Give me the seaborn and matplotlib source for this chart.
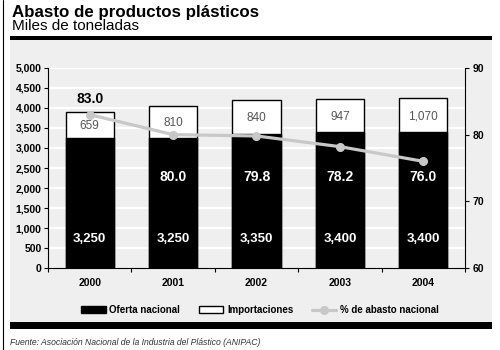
import numpy as np
import pandas as pd
import seaborn as sns
import matplotlib.pyplot as plt
from matplotlib.patches import Rectangle
from matplotlib.lines import Line2D

# --- dati ---
years = ['2000', '2001', '2002', '2003', '2004']
oferta = [3250, 3250, 3350, 3400, 3400]
# valori stampati sulle barre
importaciones = [659, 810, 840, 947, 1070]
# altezza del segmento bianco come disegnata nel grafico originale
importaciones_barra = [659, 810, 840, 830, 855]
abasto = [83.0, 80.0, 79.8, 78.2, 76.0]

df = pd.DataFrame({'year': years, 'oferta': oferta, 'imp': importaciones_barra, 'pct': abasto})
df['total'] = df['oferta'] + df['imp']

sns.set_style('white')
plt.rcParams['font.family'] = ['Liberation Sans', 'DejaVu Sans']
plt.rcParams['text.color'] = 'black'
plt.rcParams['xtick.color'] = 'black'
plt.rcParams['ytick.color'] = 'black'
plt.rcParams['axes.edgecolor'] = 'black'

fig = plt.figure(figsize=(5, 3.5), dpi=100)

# pannello grigio e barre nere
fig.patches.append(Rectangle((0.02, 0.08), 0.964, 0.808, transform=fig.transFigure,
                             facecolor='#efefef', edgecolor='none', zorder=0))
fig.patches.append(Rectangle((0.02, 0.886), 0.964, 0.011, transform=fig.transFigure,
                             facecolor='black', edgecolor='none', zorder=1))
fig.patches.append(Rectangle((0.02, 0.06), 0.964, 0.02, transform=fig.transFigure,
                             facecolor='black', edgecolor='none', zorder=1))
fig.add_artist(Line2D([0.006, 0.006], [0, 1], transform=fig.transFigure, color='black', lw=0.8))

fig.text(0.024, 0.965, 'Abasto de productos plásticos', fontsize=12.2, fontweight='bold', va='center')
fig.text(0.024, 0.925, 'Miles de toneladas', fontsize=11, va='center')
fig.text(0.021, 0.022, 'Fuente: Asociación Nacional de la Industria del Plástico (ANIPAC)',
         fontsize=6.2, style='italic', color='#333333', va='center')

ax = fig.add_axes([0.096, 0.234, 0.834, 0.572])
ax.set_zorder(5)
ax.set_facecolor('#efefef')
for y in np.arange(500, 5001, 500):
    ax.axhline(y, color='white', lw=1.6, zorder=0)

sns.barplot(data=df, x='year', y='total', color='white', edgecolor='black', linewidth=1,
            width=0.58, ax=ax, zorder=2)
sns.barplot(data=df, x='year', y='oferta', color='black', edgecolor='black', linewidth=1,
            width=0.58, ax=ax, zorder=3)

for i in range(len(years)):
    ax.text(i, oferta[i] + importaciones_barra[i] / 2 - 30, f'{importaciones[i]:,}', ha='center',
            va='center', fontsize=8.5, color='#555555', zorder=5)
    ax.text(i, 730, f'{oferta[i]:,}', ha='center', va='center', fontsize=9.5,
            fontweight='bold', color='white', zorder=5)

ax.set_ylim(0, 5000)
ax.set_xlim(-0.5, 4.5)
ax.set_yticks(np.arange(0, 5001, 500))
ax.set_xticks(np.arange(-0.5, 4.6, 1), minor=True)
ax.yaxis.set_major_formatter(plt.FuncFormatter(lambda v, p: f'{int(v):,}'))
ax.set_xlabel('')
ax.set_ylabel('')
for s in ['top', 'right']:
    ax.spines[s].set_visible(False)
ax.spines['left'].set_linewidth(0.8)
ax.spines['bottom'].set_linewidth(0.8)
ax.tick_params(axis='y', length=3, width=0.8, labelsize=7.5, left=True, pad=1.5)
ax.tick_params(axis='x', which='major', length=0, labelsize=7.5, pad=7)
ax.tick_params(axis='x', which='minor', length=3, width=0.8, bottom=True)
for lab in ax.get_xticklabels() + ax.get_yticklabels():
    lab.set_fontweight('bold')

ax2 = ax.twinx()
ax2.set_zorder(6)
ax2.plot(range(len(years)), abasto, color='#c8c8c8', lw=2.3, marker='o', ms=5.5, zorder=6)
ax2.set_ylim(60, 90)
ax2.set_yticks([60, 70, 80, 90])
for s in ['top', 'left', 'bottom']:
    ax2.spines[s].set_visible(False)
ax2.spines['right'].set_linewidth(0.8)
ax2.tick_params(axis='y', length=3, width=0.8, labelsize=7.5, right=True, pad=2.5)
for lab in ax2.get_yticklabels():
    lab.set_fontweight('bold')

ax2.text(0, abasto[0] + 2.4, f'{abasto[0]:.1f}', ha='center', va='center', fontsize=10,
         fontweight='bold', color='black')
for i in range(1, len(years)):
    ax.text(i, 2265, f'{abasto[i]:.1f}', ha='center', va='center', fontsize=10,
            fontweight='bold', color='white', zorder=5)

# legenda
handles = [Rectangle((0, 0), 1, 1, facecolor='black', edgecolor='black'),
           Rectangle((0, 0), 1, 1, facecolor='white', edgecolor='black'),
           Line2D([0], [0], color='#c8c8c8', lw=2.3, marker='o', ms=5.5)]
fig.legend(handles, ['Oferta nacional', 'Importaciones', '% de abasto nacional'],
           loc='center', bbox_to_anchor=(0.52, 0.114), ncol=3, frameon=False,
           prop={'size': 7, 'weight': 'bold'}, handlelength=2.5, columnspacing=1.9,
           handletextpad=0.4)

fig.savefig('out.png', dpi=100)
